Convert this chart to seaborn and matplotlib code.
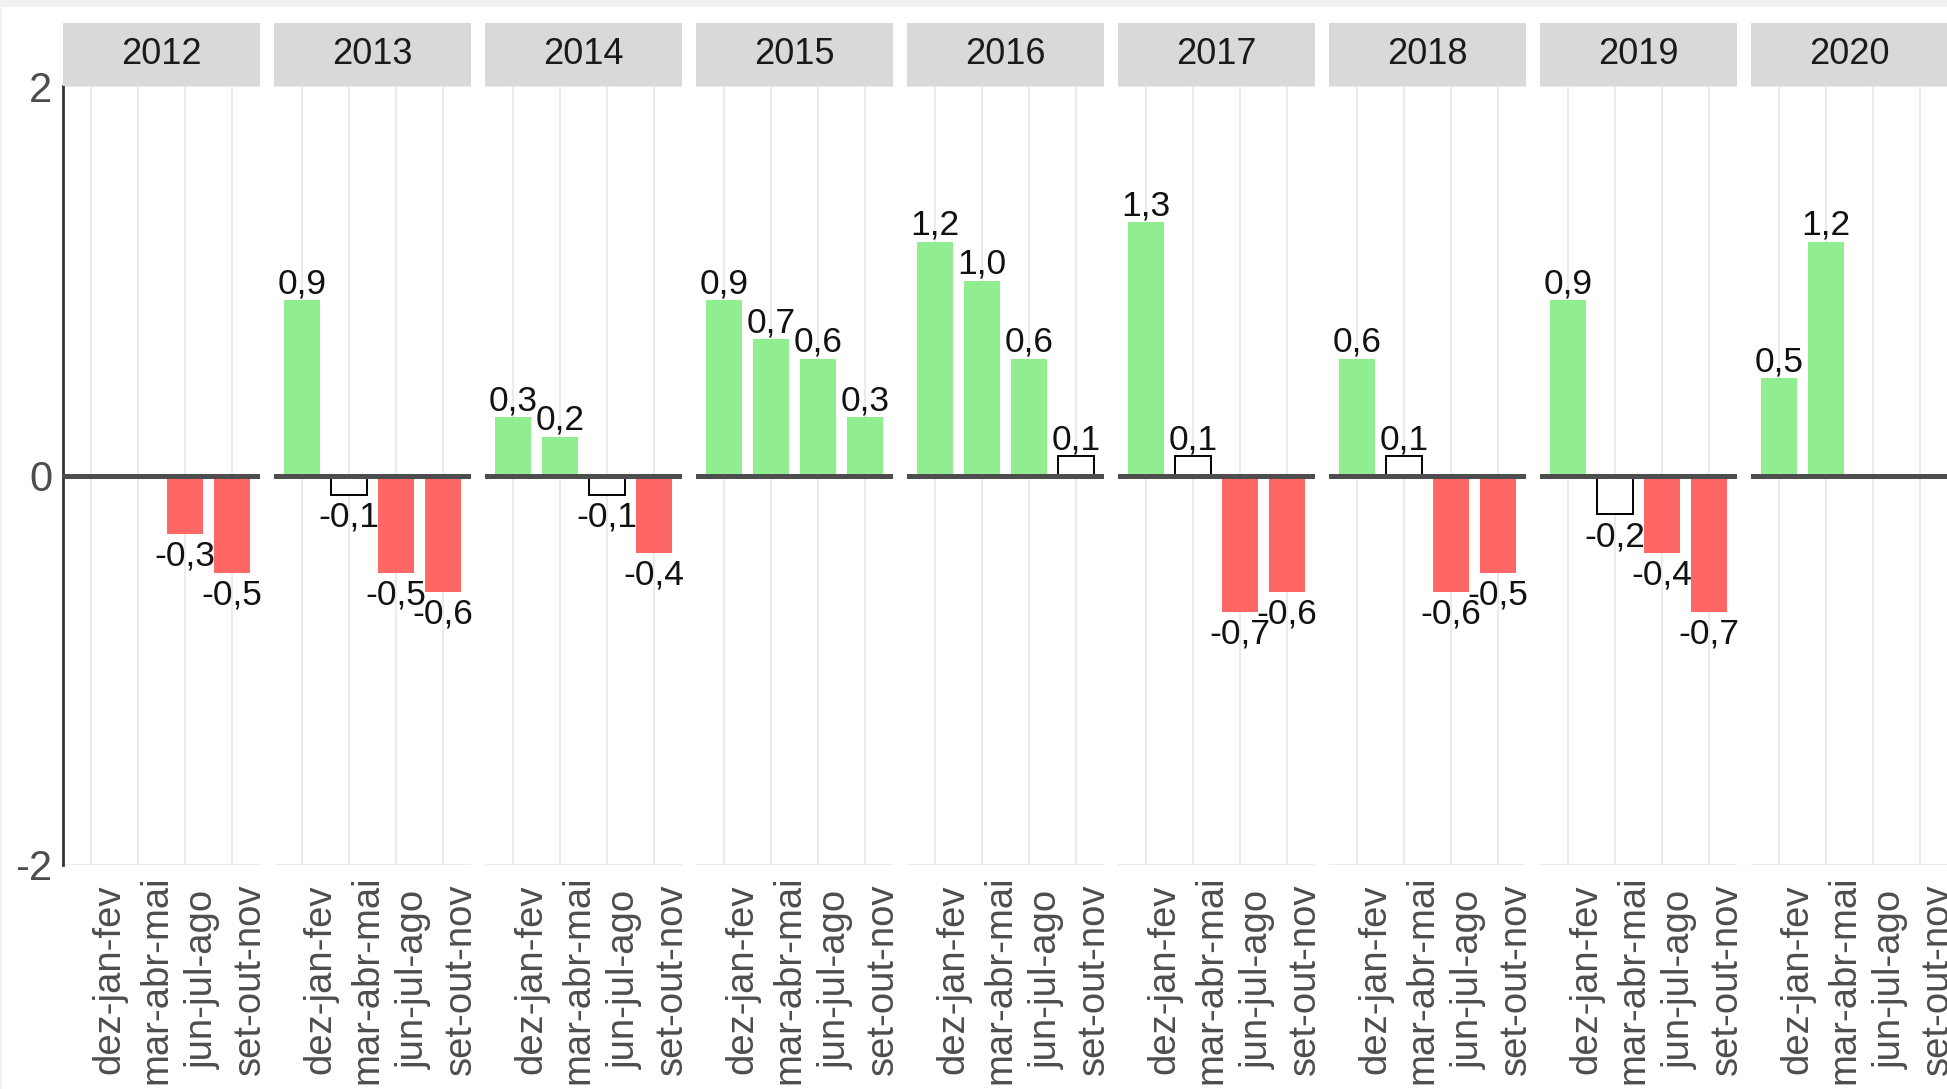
import numpy as np
import pandas as pd
import matplotlib
matplotlib.use("Agg")
import matplotlib.pyplot as plt
import seaborn as sns
from matplotlib.patches import Rectangle

# -----------------------------------------
# Data
# -----------------------------------------
anos = [2012, 2013, 2014, 2015, 2016, 2017, 2018, 2019, 2020]
periodos = ["dez-jan-fev", "mar-abr-mai", "jun-jul-ago", "set-out-nov"]

v2012 = [np.nan, np.nan, -0.3, -0.5]
v2013 = [0.9, -0.1, -0.5, -0.6]
v2014 = [0.3, 0.2, -0.1, -0.4]
v2015 = [0.9, 0.7, 0.6, 0.3]
v2016 = [1.2, 1.0, 0.6, 0.1]
v2017 = [1.3, 0.1, -0.7, -0.6]
v2018 = [0.6, 0.1, -0.6, -0.5]
v2019 = [0.9, -0.2, -0.4, -0.7]
v2020 = [0.5, 1.2, np.nan, np.nan]

# bars drawn white (neutral) in the reference: (year, period index)
neutros = [(2013, 1), (2014, 2), (2016, 3), (2017, 1), (2018, 1), (2019, 1)]

valores = [v2012, v2013, v2014, v2015, v2016, v2017, v2018, v2019, v2020]

rows = []
for ano, vals in zip(anos, valores):
    for j, v in enumerate(vals):
        if np.isnan(v):
            continue
        if (ano, j) in neutros:
            tipo = "neutro"
        elif v > 0:
            tipo = "alta"
        else:
            tipo = "queda"
        rows.append({"ano": ano, "periodo": periodos[j], "valor": v, "tipo": tipo})
df = pd.DataFrame(rows)

paleta = {"alta": "#90EE90", "queda": "#FF6666", "neutro": "#FFFFFF"}

# -----------------------------------------
# Style
# -----------------------------------------
sns.set_style("white")
plt.rcParams["font.family"] = ["Liberation Sans", "DejaVu Sans"]

W, H = 1947, 1089
fig = plt.figure(figsize=(W / 100, H / 100), dpi=100)
fig.patch.set_facecolor("white")

# thin grey frame on top/left like the screenshot
fig.patches.append(Rectangle((0, 1 - 7 / H), 1, 7 / H, transform=fig.transFigure,
                             facecolor="#f2f2f2", edgecolor="none", zorder=0))
fig.patches.append(Rectangle((0, 0), 2 / W, 1, transform=fig.transFigure,
                             facecolor="#f2f2f2", edgecolor="none", zorder=0))

left0, pitch, pw = 63, 211, 197
top_px, bot_px = 86, 865
strip_top = 23

for i, ano in enumerate(anos):
    x0 = left0 + i * pitch
    ax = fig.add_axes([x0 / W, 1 - bot_px / H, pw / W, (bot_px - top_px) / H])
    sub = df[df["ano"] == ano]

    sns.barplot(data=sub, x="periodo", y="valor", hue="tipo", order=periodos,
                hue_order=["alta", "queda", "neutro"], palette=paleta,
                dodge=False, width=0.77, saturation=1, errorbar=None,
                legend=False, ax=ax)

    for p in ax.patches:
        fc = p.get_facecolor()
        if fc[0] > 0.99 and fc[1] > 0.99 and fc[2] > 0.99:
            p.set_edgecolor("black")
            p.set_linewidth(1.4)
        else:
            p.set_edgecolor("none")

    ax.set_xlim(-0.6, 3.6)
    ax.set_ylim(-2, 2)
    ax.set_xlabel("")
    ax.set_ylabel("")
    ax.set_axisbelow(True)
    ax.set_yticks([-2, 0, 2])
    ax.grid(True, color="#ebebeb", linewidth=1.5)
    ax.axhline(0, color="#4d4d4d", linewidth=3.6, zorder=3)

    for s in ax.spines.values():
        s.set_visible(False)

    ax.tick_params(axis="x", length=3.6, width=1.1, color="#333333",
                   labelsize=27.5, labelcolor="#4d4d4d", pad=79)
    ax.set_xticks(range(len(periodos)))
    ax.set_xticklabels(periodos, rotation=90, va="center", ha="left")

    if i == 0:
        ax.spines["left"].set_visible(True)
        ax.spines["left"].set_color("#333333")
        ax.spines["left"].set_linewidth(2)
        ax.tick_params(axis="y", length=3.6, width=1.1, color="#333333",
                       labelsize=30, labelcolor="#4d4d4d", pad=4)
        ax.set_yticklabels(["-2", "0", "2"])
    else:
        ax.tick_params(axis="y", length=0, labelleft=False)

    # value labels
    for _, r in sub.iterrows():
        xpos = periodos.index(r["periodo"])
        txt = f"{r['valor']:.1f}".replace(".", ",")
        if r["valor"] > 0:
            ax.annotate(txt, (xpos, r["valor"]), xytext=(0, 0),
                        textcoords="offset points", ha="center", va="bottom",
                        fontsize=25.5, color="#111111", zorder=5)
        else:
            ax.annotate(txt, (xpos, r["valor"]), xytext=(0, -4),
                        textcoords="offset points", ha="center", va="top",
                        fontsize=25.5, color="#111111", zorder=5)

    # facet strip
    fig.patches.append(Rectangle((x0 / W, 1 - top_px / H), pw / W,
                                 (top_px - strip_top) / H,
                                 transform=fig.transFigure,
                                 facecolor="#d9d9d9", edgecolor="none"))
    fig.text((x0 + pw / 2) / W, 1 - ((top_px + strip_top) / 2) / H, str(ano),
             ha="center", va="center", fontsize=26, color="#1a1a1a")

fig.savefig("out.png", dpi=100)
plt.close(fig)
